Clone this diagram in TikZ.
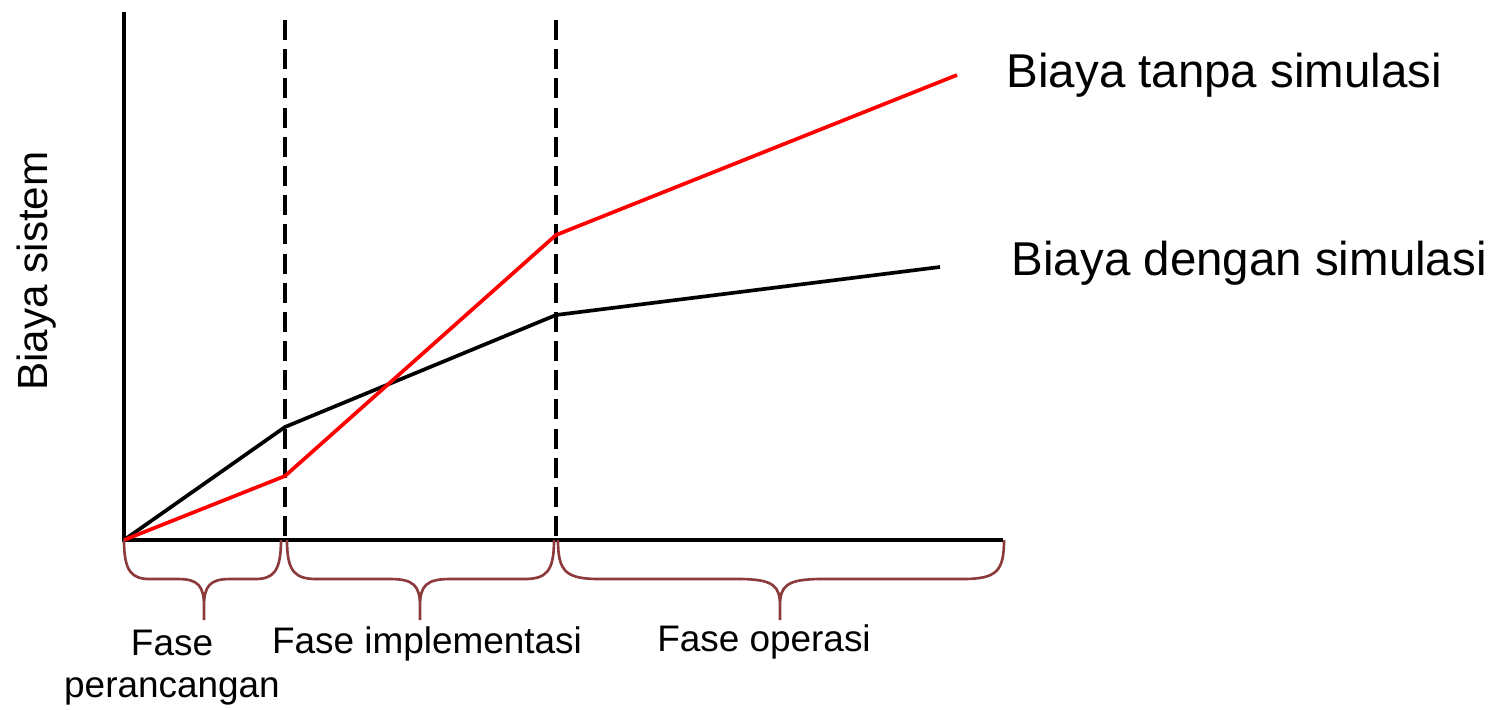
\documentclass[tikz,border=0pt]{standalone}
\usepackage{fontspec}
\setmainfont{Liberation Sans}
\definecolor{bracecol}{RGB}{140,58,60}
\definecolor{costred}{RGB}{255,0,0}
\newcommand\phasebrace[4]{% left x, tip x, right x, corner width
  \draw[brace] (#1,540) .. controls (#1,572) and (#1+8,579) .. (#1+#4,579)
    -- (#2-#4,579) .. controls (#2-6,579) and (#2,586) .. (#2,606) -- (#2,620)
    (#2,606) .. controls (#2,586) and (#2+6,579) .. (#2+#4,579)
    -- (#3-#4,579) .. controls (#3-8,579) and (#3,572) .. (#3,540);}
\begin{document}
\begin{tikzpicture}[x=0.01cm,y=-0.01cm,
  axis/.style={line width=1pt, draw=black},
  phaseline/.style={line width=0.9pt, draw=black, dash pattern=on 5.7pt off 2.6pt},
  costline/.style={line width=1.05pt, line join=round},
  brace/.style={line width=0.75pt, draw=bracecol},
  biglabel/.style={font=\fontsize{13.5}{16}\selectfont, inner sep=0pt},
  phaselabel/.style={font=\fontsize{10.5}{12}\selectfont, inner sep=0pt, align=center},
  ylabel/.style={font=\fontsize{12}{14}\selectfont, inner sep=0pt}]
\useasboundingbox (0,0) rectangle (1495,709);
% coordinates
\coordinate (O) at (124,540);
\coordinate (ytop) at (124,12);
\coordinate (xend) at (1003,540);
\coordinate (d1top) at (285,20);
\coordinate (d1bot) at (285,540);
\coordinate (d2top) at (556,20);
\coordinate (d2bot) at (556,540);
\coordinate (b1) at (285,427);
\coordinate (b2) at (556,315);
\coordinate (b3) at (940,267);
\coordinate (r1) at (285,476);
\coordinate (r2) at (556,235);
\coordinate (r3) at (957,75);
% phase separators
\draw[phaseline] (d1top) -- (d1bot);
\draw[phaseline] (d2top) -- (d2bot);
% axes
\draw[axis] (ytop) -- (O) -- (xend);
% cost curves
\draw[costline, draw=black] (O) -- (b1) -- (b2) -- (b3);
\draw[costline, draw=costred] (O) -- (r1) -- (r2) -- (r3);
% braces
\phasebrace{124}{204}{281}{26}
\phasebrace{287}{420}{554}{30}
\phasebrace{558}{780}{1004}{42}
% labels
\node[biglabel, anchor=base west] (lred) at (1006,87) {Biaya tanpa simulasi};
\node[biglabel, anchor=base west] (lblack) at (1011,275) {Biaya dengan simulasi};
\node[ylabel, rotate=90, anchor=base] (ylab) at (47,271) {Biaya sistem};
\node[phaselabel, anchor=north] (p1) at (172,629) {Fase\\perancangan};
\node[phaselabel, anchor=base] (p2) at (427,653) {Fase implementasi};
\node[phaselabel, anchor=base] (p3) at (764,651) {Fase operasi};
\end{tikzpicture}
\end{document}
